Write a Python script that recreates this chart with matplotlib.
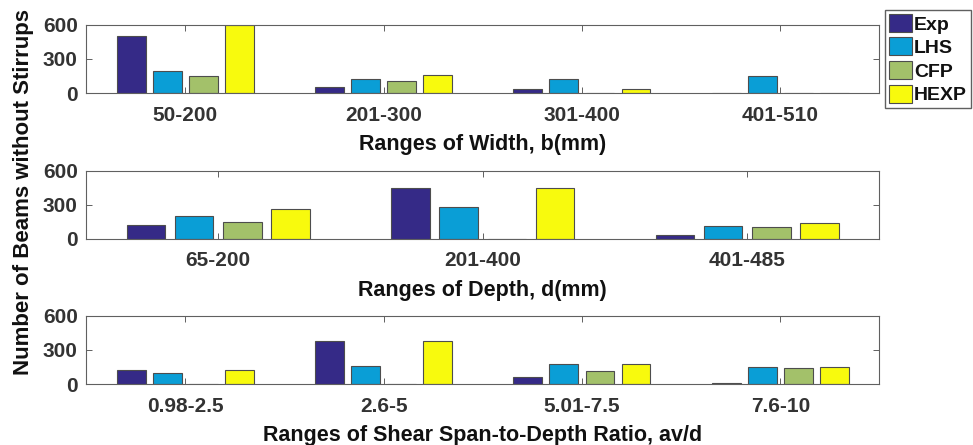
import numpy as np
import matplotlib
matplotlib.use('Agg')
import matplotlib.pyplot as plt

series = ['Exp', 'LHS', 'CFP', 'HEXP']
colors = ['#352a87', '#0a9ed6', '#a3c16a', '#f8fa0d']

width_ranges = ['50-200', '201-300', '301-400', '401-510']
width_counts = [[505, 53, 35, 0],
                [196, 126, 126, 146],
                [146, 108, 0, 0],
                [600, 158, 35, 0]]

depth_ranges = ['65-200', '201-400', '401-485']
depth_counts = [[118, 447, 32],
                [203, 282, 109],
                [147, 0, 106],
                [262, 447, 138]]

ratio_ranges = ['0.98-2.5', '2.6-5', '5.01-7.5', '7.6-10']
ratio_counts = [[126, 382, 62, 10],
                [100, 159, 173, 147],
                [0, 0, 112, 138],
                [126, 382, 179, 150]]

panels = [(width_ranges, width_counts, 'Ranges of Width, b(mm)'),
          (depth_ranges, depth_counts, 'Ranges of Depth, d(mm)'),
          (ratio_ranges, ratio_counts, 'Ranges of Shear Span-to-Depth Ratio, av/d')]

tick_txt = '#333333'
lab_txt = '#111111'
edge = '#4d4d4d'
plt.rcParams['font.family'] = ['Liberation Sans', 'DejaVu Sans']
plt.rcParams['font.weight'] = 'bold'

fig = plt.figure(figsize=(9.73, 4.45), dpi=100)
bottoms = [0.791, 0.4636, 0.137]
left, w, h = 0.0884, 0.8155, 0.153

# grouped bars laid out the way MATLAB's bar() does it
nser = len(series)
groupw = min(0.8, nser / (nser + 1.5))
pitch = groupw / nser
barw = 0.8 * pitch

handles = None
for (cats, counts, xlabel), b in zip(panels, bottoms):
    ax = fig.add_axes([left, b, w, h])
    x = np.arange(1, len(cats) + 1)
    bars = []
    for i in range(nser):
        off = (i - (nser - 1) / 2) * pitch
        bars.append(ax.bar(x + off, counts[i], barw, color=colors[i],
                           edgecolor=edge, linewidth=0.8, label=series[i]))
    if handles is None:
        handles = bars
    ax.set_xlim(0.5, len(cats) + 0.5)
    ax.set_ylim(0, 600)
    ax.set_yticks([0, 300, 600])
    ax.set_xticks(x)
    ax.set_xticklabels(cats)
    ax.tick_params(direction='in', top=True, right=True, length=4,
                   width=0.7, colors='#606060', labelcolor=tick_txt,
                   labelsize=15)
    ax.tick_params(axis='x', pad=9)
    ax.tick_params(axis='y', pad=6)
    for s in ax.spines.values():
        s.set_color('#606060')
        s.set_linewidth(0.8)
    ax.set_xlabel(xlabel, fontsize=15.5, fontweight='bold', color=lab_txt, labelpad=7)

fig.text(24 / 973, 1 - 192 / 445, 'Number of Beams without Stirrups',
         rotation=90, ha='center', va='center', fontsize=16,
         fontweight='bold', color=lab_txt)

leg = fig.legend(handles=handles, labels=series, loc='upper left',
                 bbox_to_anchor=(885 / 973, 1 - 10 / 445), fontsize=14,
                 handlelength=1.2, handleheight=1.05, handletextpad=0.08,
                 labelspacing=0.2, borderpad=0.2, borderaxespad=0,
                 fancybox=False, framealpha=1, edgecolor='#606060')
for t in leg.get_texts():
    t.set_color(lab_txt)
    t.set_fontweight('bold')

fig.savefig('out.png', dpi=100)
